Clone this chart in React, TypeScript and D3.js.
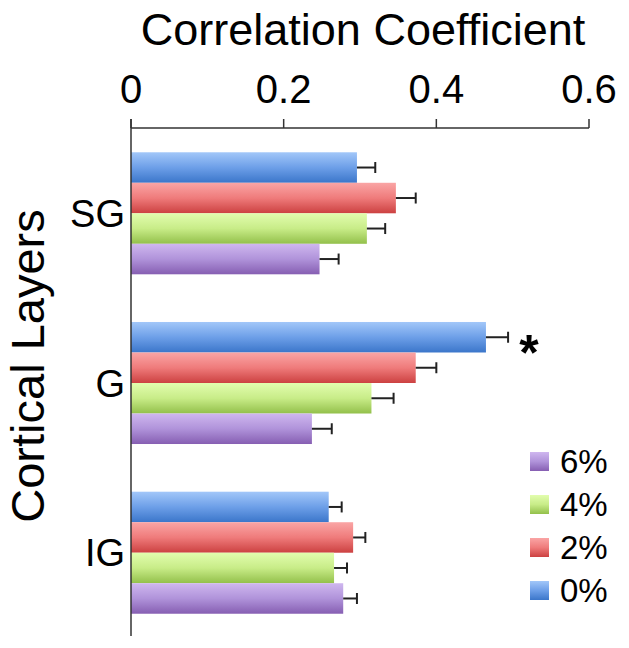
import * as d3 from "d3";

const layers = ["SG", "G", "IG"];
const series = ["0%", "2%", "4%", "6%"];
const legendOrder = ["6%", "4%", "2%", "0%"];

// correlation per layer, one array per series (SG, G, IG)
const values0 = [0.296, 0.465, 0.259];
const values2 = [0.347, 0.373, 0.291];
const values4 = [0.309, 0.315, 0.266];
const values6 = [0.247, 0.237, 0.278];

const errors0 = [0.024, 0.029, 0.017];
const errors2 = [0.026, 0.027, 0.016];
const errors4 = [0.024, 0.029, 0.017];
const errors6 = [0.025, 0.026, 0.018];

const xTicks = [0, 0.2, 0.4, 0.6];
const xTickLabels = ["0", "0.2", "0.4", "0.6"];

const gradients: Record<string, string[]> = {
  "0%": ["#a2c7f9", "#6d9fe8", "#3b76ca"],
  "2%": ["#faa5a5", "#ef7b7b", "#cc4141"],
  "4%": ["#e2fdae", "#c8ec88", "#93c04b"],
  "6%": ["#cfb7ef", "#b093da", "#865eb2"],
};

const width = 629;
const height = 648;

export default function App() {
  const valueMap: Record<string, number[]> = {
    "0%": values0,
    "2%": values2,
    "4%": values4,
    "6%": values6,
  };
  const errorMap: Record<string, number[]> = {
    "0%": errors0,
    "2%": errors2,
    "4%": errors4,
    "6%": errors6,
  };

  const x = d3.scaleLinear().domain([0, 0.6]).range([131, 589]);
  const y = d3
    .scaleBand<string>()
    .domain(layers)
    .range([128, 638])
    .paddingInner(0.281)
    .paddingOuter(0.143);
  const ySeries = d3
    .scaleBand<string>()
    .domain(series)
    .range([0, y.bandwidth()]);

  const font = "'Liberation Sans', Arial, Helvetica, sans-serif";
  const axisColor = "#333";

  return (
    <svg
      width={width}
      height={height}
      style={{ position: "absolute", left: 0, top: 0, background: "#fff" }}
      fontFamily={font}
    >
      <defs>
        {series.map((s) => (
          <linearGradient key={s} id={`grad-${s.replace("%", "")}`} x1="0" y1="0" x2="0" y2="1">
            <stop offset="0" stopColor={gradients[s][0]} />
            <stop offset="0.5" stopColor={gradients[s][1]} />
            <stop offset="1" stopColor={gradients[s][2]} />
          </linearGradient>
        ))}
      </defs>

      {/* title */}
      <text x={363} y={45} fontSize={45} textAnchor="middle" fill="#000">
        Correlation Coefficient
      </text>

      {/* top axis */}
      <g>
        <line x1={x(0)} x2={x(0.6)} y1={128} y2={128} stroke={axisColor} strokeWidth={1.5} />
        {xTicks.map((t, i) => (
          <g key={t}>
            <line x1={x(t)} x2={x(t)} y1={119} y2={128} stroke={axisColor} strokeWidth={1.5} />
            <text x={x(t)} y={103} fontSize={40} textAnchor="middle" fill="#000">
              {xTickLabels[i]}
            </text>
          </g>
        ))}
      </g>

      {/* bars */}
      {layers.map((layer, li) => (
        <g key={layer} transform={`translate(0,${y(layer)})`}>
          {series.map((s) => {
            const v = valueMap[s][li];
            const e = errorMap[s][li];
            const by = ySeries(s) as number;
            const bh = ySeries.bandwidth();
            const cy = by + bh / 2;
            return (
              <g key={s}>
                <rect
                  x={x(0)}
                  y={by}
                  width={x(v) - x(0)}
                  height={bh}
                  fill={`url(#grad-${s.replace("%", "")})`}
                />
                <line x1={x(v)} x2={x(v + e)} y1={cy} y2={cy} stroke="#222" strokeWidth={2} />
                <line x1={x(v + e)} x2={x(v + e)} y1={cy - 5.5} y2={cy + 5.5} stroke="#222" strokeWidth={2} />
              </g>
            );
          })}
          <text
            x={125}
            y={y.bandwidth() / 2}
            dy="0.36em"
            fontSize={38}
            textAnchor="end"
            fill="#000"
          >
            {layer}
          </text>
        </g>
      ))}

      {/* significance marker */}
      <text
        x={x(values0[1] + errors0[1]) + 21}
        y={(y("G") as number) + ySeries("0%")! + 48}
        fontSize={50}
        fontWeight="bold"
        textAnchor="middle"
        fill="#000"
      >
        *
      </text>

      {/* left axis */}
      <line x1={x(0)} x2={x(0)} y1={119} y2={636} stroke={axisColor} strokeWidth={1.5} />

      {/* y title */}
      <text
        transform={`translate(44,366) rotate(-90)`}
        fontSize={47}
        textAnchor="middle"
        fill="#000"
      >
        Cortical Layers
      </text>

      {/* legend */}
      <g>
        {legendOrder.map((s, i) => (
          <g key={s} transform={`translate(530,${452 + i * 43})`}>
            <rect width={19} height={19} fill={`url(#grad-${s.replace("%", "")})`} />
            <text x={30} y={9.5} dy="0.36em" fontSize={33} fill="#000">
              {s}
            </text>
          </g>
        ))}
      </g>
    </svg>
  );
}
